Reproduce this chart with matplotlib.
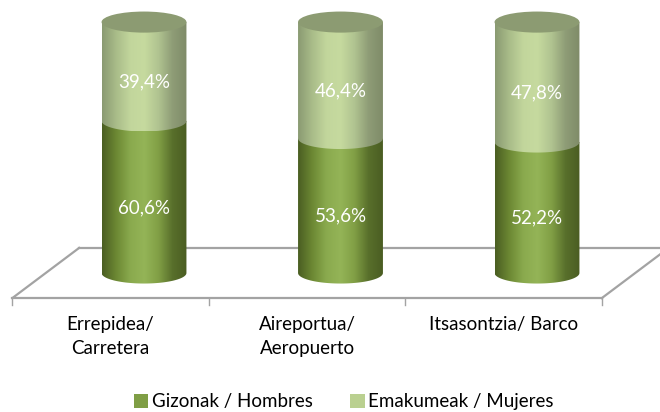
import numpy as np
import matplotlib
matplotlib.use("Agg")
import matplotlib.pyplot as plt
from matplotlib.path import Path
from matplotlib.patches import PathPatch, Ellipse, Rectangle
from matplotlib.colors import LinearSegmentedColormap

# ---------- Data ----------
categories = ["Errepidea/\nCarretera", "Aireportua/\nAeropuerto", "Itsasontzia/ Barco"]
series_names = ["Gizonak / Hombres", "Emakumeak / Mujeres"]
hombres = [60.6, 53.6, 52.2]
mujeres = [39.4, 46.4, 47.8]

# ---------- Style ----------
plt.rcParams["font.family"] = ["Lato", "DejaVu Sans"]
FS = 13.5
HW = 0.216      # cylinder half width (x units)
RY = 4.2        # ellipse half height (% units)
DEPTH = 0.17    # 3D depth shift in x
FLOOR_DV = 10.0

cmap_dark = LinearSegmentedColormap.from_list(
    "dark", ["#4a5e22", "#6c8833", "#8aaa4e", "#94b457", "#819f45", "#586f2b", "#4a5d22"])
cmap_light = LinearSegmentedColormap.from_list(
    "light", ["#8a9a72", "#a9bc89", "#c2d69c", "#c6da9f", "#b0c390", "#8e9c76", "#7f8b68"])
legend_colors = ["#7f9e45", "#bad090"]
cap_color = "#8c9b72"
floor_color = "#a3a3a3"

fig = plt.figure(figsize=(6.6, 4.12), dpi=100)
ax = fig.add_axes([0, 0, 1, 1])


def segment_path(x, vb, vt):
    t = np.linspace(np.pi, 2 * np.pi, 60)
    pts = [(x - HW, vt), (x - HW, vb)]
    pts += list(zip(x + HW * np.cos(t), vb + RY * np.sin(t)))
    pts += [(x + HW, vt), (x - HW, vt)]
    codes = [Path.MOVETO] + [Path.LINETO] * (len(pts) - 2) + [Path.CLOSEPOLY]
    return Path(pts, codes)


def draw_segment(x, vb, vt, cmap, z):
    patch = PathPatch(segment_path(x, vb, vt), facecolor="none", edgecolor="none",
                      transform=ax.transData, zorder=z)
    ax.add_patch(patch)
    grad = np.linspace(0, 1, 256)[np.newaxis, :]
    im = ax.imshow(grad, cmap=cmap, extent=[x - HW, x + HW, vb - RY, vt + RY],
                   aspect="auto", zorder=z, interpolation="bilinear")
    im.set_clip_path(patch)


# ---------- Floor ----------
n = len(categories)
fl, fr = -0.5 - DEPTH, n - 0.5 - DEPTH
bl, br = -0.5 + DEPTH, n - 0.5 + DEPTH
ax.plot([bl, br], [FLOOR_DV, FLOOR_DV], color=floor_color, lw=1.6, zorder=1)
ax.plot([fl, bl], [-FLOOR_DV, FLOOR_DV], color=floor_color, lw=1.6, zorder=1)
ax.plot([fr, br], [-FLOOR_DV, FLOOR_DV], color=floor_color, lw=1.6, zorder=1)
ax.plot([fl, fr], [-FLOOR_DV, -FLOOR_DV], color=floor_color, lw=1.6, zorder=6)
for i in range(n + 1):
    xt = i - 0.5 - DEPTH
    ax.plot([xt, xt], [-FLOOR_DV, -FLOOR_DV - 2.8], color=floor_color, lw=1.0, zorder=6)

# ---------- Cylinders ----------
for i, (h, m) in enumerate(zip(hombres, mujeres)):
    draw_segment(i, 0, h, cmap_dark, 2)
    draw_segment(i, h, h + m, cmap_light, 3)
    ax.add_patch(Ellipse((i, h + m), 2 * HW, 2 * RY, facecolor=cap_color,
                         edgecolor="none", zorder=4))
    ax.text(i, h / 2 - RY, f"{h:.1f}%".replace(".", ","), color="white",
            fontsize=FS, ha="center", va="center", zorder=5)
    ax.text(i, h + m / 2 - RY, f"{m:.1f}%".replace(".", ","), color="white",
            fontsize=FS, ha="center", va="center", zorder=5)
    ax.text(i - DEPTH, -17.3, categories[i], fontsize=FS, ha="center", va="top",
            linespacing=1.5, color="black")

ax.set_xlim(-0.7328, 2.626)
ax.set_ylim(-55.4, 108.8)
ax.axis("off")

# ---------- Legend ----------
handles = [Rectangle((0, 0), 1, 1, facecolor=c, edgecolor="none") for c in legend_colors]
fig.legend(handles, series_names, loc="center", bbox_to_anchor=(344 / 660, 1 - 402 / 412),
           ncol=2, frameon=False, fontsize=FS, handlelength=0.75, handleheight=0.75,
           handletextpad=0.2, columnspacing=2.0)

fig.savefig("out.png", dpi=100)
